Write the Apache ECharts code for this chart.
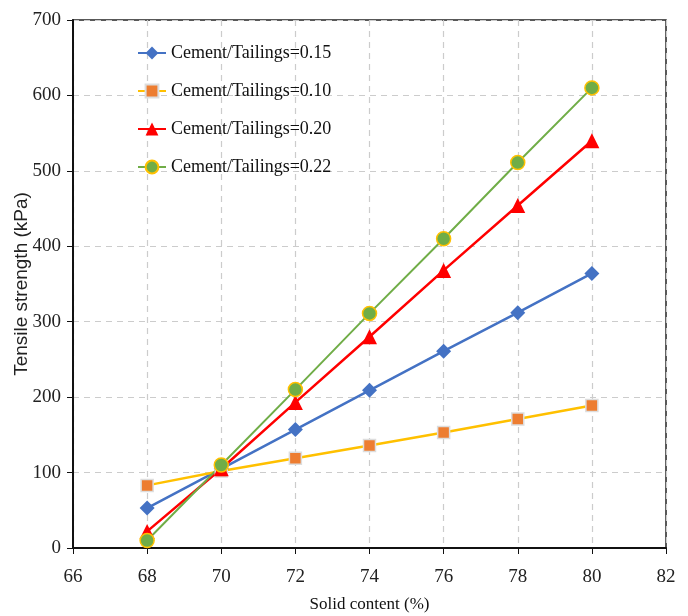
<!DOCTYPE html>
<html style="height: 100%">
<head>
<meta charset="utf-8">
<script src="https://cdn.jsdelivr.net/npm/echarts@6/dist/echarts.min.js"></script>
</head>
<body style="height: 100%; margin: 0; background: #fff">
<div id="container" style="width: 688px; height: 616px"></div>
<script type="text/javascript">
// solid content (%)
let solid = [68, 70, 72, 74, 76, 78, 80];
// tensile strength (kPa) per cement/tailings ratio
let ct015 = [53, 105, 157, 209, 261, 312, 364];
let ct010 = [83, 102, 119, 136, 153, 171, 189];
let ct020 = [22, 105, 193, 280, 368, 454, 540];
let ct022 = [10, 110, 210, 311, 410, 511, 610];

function pairs(vals) {
    return solid.map(function (x, i) { return [x, vals[i]]; });
}

let font = '"Liberation Serif", "DejaVu Serif", serif';
let chart = echarts.init(document.getElementById('container'));
chart.setOption({
    animation: false,
    backgroundColor: '#fff',
    textStyle: { fontFamily: font },
    grid: {
        left: 73, right: 22, top: 20, bottom: 68,
        containLabel: false, outerBoundsMode: 'none',
        show: true, borderColor: '#222', borderWidth: 1.5
    },
    legend: {
        orient: 'vertical',
        left: 132,
        top: 39,
        itemGap: 20,
        itemWidth: 28,
        itemHeight: 16,
        textStyle: { fontFamily: font, fontSize: 18, color: '#111' },
        data: ['Cement/Tailings=0.15', 'Cement/Tailings=0.10', 'Cement/Tailings=0.20', 'Cement/Tailings=0.22']
    },
    xAxis: {
        type: 'value', min: 66, max: 82, interval: 2,
        name: 'Solid content (%)', nameLocation: 'middle', nameGap: 48,
        nameMoveOverlap: false,
        nameTextStyle: { fontFamily: font, fontSize: 17, color: '#111' },
        axisLine: { lineStyle: { color: '#111', width: 2 } },
        axisTick: { show: true, length: 6, lineStyle: { color: '#111' } },
        axisLabel: { fontFamily: font, fontSize: 19, color: '#222', margin: 20 },
        splitLine: { show: true, lineStyle: { color: '#ccc', type: [6, 5], width: 1.2 } }
    },
    yAxis: {
        type: 'value', min: 0, max: 700, interval: 100,
        name: 'Tensile strength (kPa)', nameLocation: 'middle', nameGap: 42,
        nameMoveOverlap: false,
        nameTextStyle: { fontFamily: '"Liberation Sans", Arial, sans-serif', fontSize: 19, color: '#222' },
        axisLine: { show: true, lineStyle: { color: '#111', width: 2 } },
        axisTick: { show: true, length: 6, lineStyle: { color: '#111' } },
        axisLabel: { fontFamily: font, fontSize: 19, color: '#222', margin: 12 },
        splitLine: { show: true, lineStyle: { color: '#ccc', type: [6, 5], width: 1.2 } }
    },
    series: [
        {
            name: 'Cement/Tailings=0.15', type: 'line', data: pairs(ct015),
            symbol: 'diamond', symbolSize: 15,
            lineStyle: { color: '#4472C4', width: 2.5 },
            itemStyle: { color: '#4472C4' }
        },
        {
            name: 'Cement/Tailings=0.10', type: 'line', data: pairs(ct010),
            symbol: 'rect', symbolSize: 12,
            lineStyle: { color: '#FFC000', width: 2.5 },
            itemStyle: { color: '#ED7D31', borderColor: '#ddd', borderWidth: 1.5 }
        },
        {
            name: 'Cement/Tailings=0.20', type: 'line', data: pairs(ct020),
            symbol: 'triangle', symbolSize: 15,
            lineStyle: { color: '#FF0000', width: 2.5 },
            itemStyle: { color: '#FF0000' }
        },
        {
            name: 'Cement/Tailings=0.22', type: 'line', data: pairs(ct022),
            symbol: 'circle', symbolSize: 14,
            lineStyle: { color: '#70AD47', width: 2 },
            itemStyle: { color: '#70AD47', borderColor: '#FFC000', borderWidth: 1.5 }
        }
    ]
});
</script>
</body>
</html>
